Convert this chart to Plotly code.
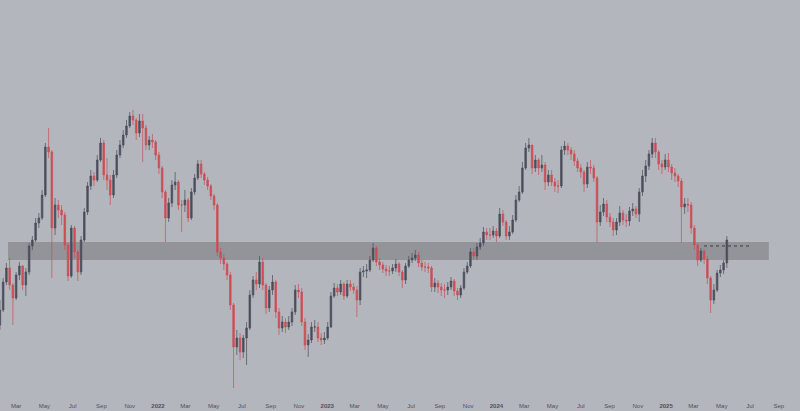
import pandas as pd
import plotly.graph_objects as go

# Weekly candles (index units), first week starting 2021-01-25
first_open = 75
close = [90,118,132,115,102,125,134,115,128,154,160,177,182,205,253,248,172,195,190,185,
         155,124,172,148,128,160,188,214,224,220,240,257,225,220,205,225,245,255,265,274,
         284,280,267,279,272,255,260,258,245,232,208,182,197,215,218,195,195,200,182,208,
         222,236,226,220,214,204,195,148,142,136,125,95,53,62,48,62,72,105,120,116,
         138,115,92,110,118,88,72,78,73,78,88,110,108,78,55,60,73,73,62,60,
         62,73,104,112,108,116,104,116,113,110,100,128,129,130,140,152,138,135,131,129,
         129,132,136,128,120,134,140,142,145,137,133,133,132,113,117,113,110,110,113,119,
         109,105,112,128,134,148,144,153,157,168,165,165,169,164,186,178,164,168,180,200,
         208,232,252,255,232,240,232,235,218,225,218,214,214,250,254,250,246,239,232,228,
         216,233,232,222,178,188,196,183,178,170,178,187,180,179,189,191,186,208,224,234,
         246,257,248,236,233,240,233,227,224,219,193,196,195,172,155,140,149,141,122,100,
         110,127,130,137,160]
high = [100,122,137,142,117,128,138,135,132,157,164,182,187,210,257,272,250,202,200,195,
        188,157,175,174,150,164,192,218,230,228,245,262,260,242,225,230,250,260,270,280,
        288,290,282,286,286,275,264,266,260,248,234,210,202,220,228,220,200,210,202,212,
        226,240,240,228,223,216,206,197,152,146,138,128,97,70,67,65,78,110,124,128,
        144,142,117,114,125,120,92,84,82,84,92,115,116,112,82,66,78,80,78,67,
        68,78,108,117,116,120,118,120,120,117,114,132,134,136,144,157,154,142,138,135,
        134,136,141,138,130,137,144,147,150,148,140,138,137,134,122,120,117,116,118,123,
        121,112,115,132,138,152,152,157,162,173,172,172,174,172,192,190,180,174,185,205,
        214,238,257,262,255,245,242,245,238,230,230,222,220,254,259,257,253,250,242,236,
        230,238,240,235,224,195,202,200,187,182,182,194,190,186,193,197,194,212,230,240,
        250,262,262,250,240,246,247,236,232,226,222,202,202,198,175,157,152,151,144,124,
        116,130,135,140,164]
low = [70,88,115,110,75,100,120,110,104,125,150,158,172,180,203,242,122,165,182,175,
       150,119,122,142,119,125,158,185,210,214,218,238,220,210,195,202,222,242,252,262,
       272,275,260,263,238,250,250,252,240,226,202,158,178,193,210,190,168,188,178,180,
       205,220,222,215,210,200,190,144,136,130,120,90,12,45,40,42,35,70,102,110,
       112,110,86,88,105,82,65,68,67,70,74,85,102,74,50,43,57,68,58,55,
       56,60,72,102,104,105,100,102,109,106,83,95,123,122,128,138,134,130,127,124,
       124,126,128,124,112,116,132,137,139,133,129,128,127,108,108,107,104,102,105,110,
       104,100,102,110,126,132,140,140,150,154,160,160,162,158,162,174,160,160,166,178,
       198,206,230,248,226,228,225,228,210,214,214,208,207,212,245,245,240,234,228,222,
       208,212,226,218,157,174,184,178,173,164,165,174,175,173,174,184,182,178,204,218,
       230,242,242,230,226,230,228,220,218,213,157,186,188,166,150,134,138,136,116,87,
       96,108,123,126,132]

tick_dates = ["2021-03-01","2021-05-01","2021-07-01","2021-09-01","2021-11-01","2022-01-01",
              "2022-03-01","2022-05-01","2022-07-01","2022-09-01","2022-11-01","2023-01-01",
              "2023-03-01","2023-05-01","2023-07-01","2023-09-01","2023-11-01","2024-01-01",
              "2024-03-01","2024-05-01","2024-07-01","2024-09-01","2024-11-01","2025-01-01",
              "2025-03-01","2025-05-01","2025-07-01","2025-09-01"]
tick_labels = ["Mar","May","Jul","Sep","Nov","<b>2022</b>",
               "Mar","May","Jul","Sep","Nov","<b>2023</b>",
               "Mar","May","Jul","Sep","Nov","<b>2024</b>",
               "Mar","May","Jul","Sep","Nov","<b>2025</b>",
               "Mar","May","Jul","Sep"]

zone_low, zone_high = 140, 158
level = 154

dates = pd.date_range("2021-01-25", periods=len(close), freq="7D")
opens = [first_open] + close[:-1]
highs = [max(h, o, c) for h, o, c in zip(high, opens, close)]
lows = [min(l, o, c) for l, o, c in zip(low, opens, close)]

BG = "#b4b6bd"
UP = "#4a4e5a"
DOWN = "#cc4e54"
fig = go.Figure()
fig.add_trace(go.Candlestick(
    x=dates, open=opens, high=highs, low=lows, close=close,
    increasing=dict(line=dict(color=UP, width=0.7), fillcolor=UP),
    decreasing=dict(line=dict(color=DOWN, width=0.7), fillcolor=DOWN),
    whiskerwidth=0, showlegend=False,
))

fig.add_shape(type="rect", xref="paper", yref="y", x0=0.01, x1=0.961,
              y0=zone_low, y1=zone_high, fillcolor="#939499",
              line=dict(width=0), layer="below")
fig.add_shape(type="line", xref="paper", yref="y", x0=0.88, x1=0.939,
              y0=level, y1=level, line=dict(color="#3a3c44", width=1, dash="dot"))

fig.update_layout(
    width=800, height=411,
    margin=dict(l=0, r=0, t=0, b=10),
    paper_bgcolor=BG, plot_bgcolor=BG,
    xaxis=dict(
        range=["2021-01-25 04:48", "2025-10-16 19:12"],
        rangeslider=dict(visible=False),
        showgrid=False, zeroline=False, showline=False,
        tickvals=tick_dates, ticktext=tick_labels, ticks="",
        tickfont=dict(family="Liberation Sans, Arial", size=6, color="#4e515a"),
    ),
    yaxis=dict(range=[-1, 400], visible=False, showgrid=False, zeroline=False),
)

fig.write_html("out.html", config={"displayModeBar": False},
               post_script="document.body.style.margin='0';")
